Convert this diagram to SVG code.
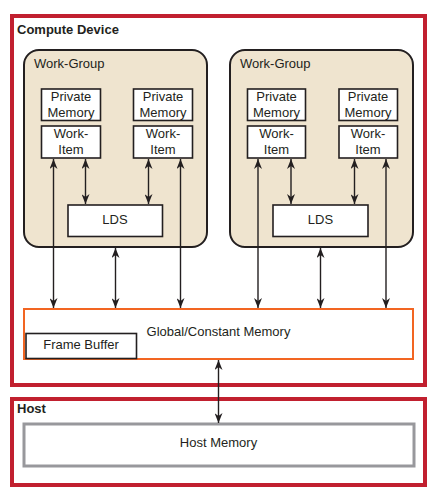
<svg xmlns="http://www.w3.org/2000/svg" width="447" height="500" viewBox="0 0 447 500">
<defs>
<marker id="ah" viewBox="0 0 10 8" refX="10" refY="4" markerWidth="10" markerHeight="8" markerUnits="userSpaceOnUse" orient="auto-start-reverse">
<path d="M0,0 L10,4 L0,8 L3,4 z" fill="#231f20"/>
</marker>
<style>
text{font-family:"Liberation Sans",Arial,sans-serif;font-size:13px;fill:#231f20}
.b{font-weight:bold}
.m{text-anchor:middle}
.outer{fill:none;stroke:#c1202f;stroke-width:4}
.wg{fill:#efe4cf;stroke:#231f20;stroke-width:2}
.box{fill:#fff;stroke:#231f20;stroke-width:1.6}
.c line{stroke:#231f20;stroke-width:1.4;marker-start:url(#ah);marker-end:url(#ah)}
</style>
</defs>
<rect width="447" height="500" fill="#fff"/>
<g id="compute-device">
<rect class="outer" x="12" y="16" width="413" height="369"/>
<text class="b" x="17" y="34">Compute Device</text>
</g>
<g id="host">
<rect class="outer" x="12" y="399" width="413" height="86"/>
<text class="b" x="17" y="413">Host</text>
</g>
<g id="workgroup1">
<rect class="wg" x="24" y="50" width="183" height="197" rx="15"/>
<text x="34" y="68">Work-Group</text>
</g>
<g id="workgroup2">
<rect class="wg" x="230" y="50" width="183" height="197" rx="15"/>
<text x="240" y="68">Work-Group</text>
</g>
<g id="pm1"><rect class="box" x="41.5" y="89" width="59" height="31.5"/><text class="m" x="71" y="101">Private</text><text class="m" x="71" y="117">Memory</text></g>
<g id="wi1"><rect class="box" x="41.5" y="126" width="59" height="32"/><text class="m" x="71" y="138">Work-</text><text class="m" x="71" y="154">Item</text></g>
<g id="pm2"><rect class="box" x="133.5" y="89" width="59" height="31.5"/><text class="m" x="163" y="101">Private</text><text class="m" x="163" y="117">Memory</text></g>
<g id="wi2"><rect class="box" x="133.5" y="126" width="59" height="32"/><text class="m" x="163" y="138">Work-</text><text class="m" x="163" y="154">Item</text></g>
<g id="pm3"><rect class="box" x="247.5" y="89" width="58" height="31.5"/><text class="m" x="276.5" y="101">Private</text><text class="m" x="276.5" y="117">Memory</text></g>
<g id="wi3"><rect class="box" x="247.5" y="126" width="58" height="32"/><text class="m" x="276.5" y="138">Work-</text><text class="m" x="276.5" y="154">Item</text></g>
<g id="pm4"><rect class="box" x="339" y="89" width="58.5" height="31.5"/><text class="m" x="368" y="101">Private</text><text class="m" x="368" y="117">Memory</text></g>
<g id="wi4"><rect class="box" x="339" y="126" width="58.5" height="32"/><text class="m" x="368" y="138">Work-</text><text class="m" x="368" y="154">Item</text></g>
<g id="lds1"><rect class="box" x="68" y="205" width="94.5" height="31.5"/><text class="m" x="115" y="224">LDS</text></g>
<g id="lds2"><rect class="box" x="273" y="205" width="95" height="31.5"/><text class="m" x="320.5" y="224">LDS</text></g>
<g id="global">
<rect x="24" y="309" width="389" height="50" fill="#fff" stroke="#f26522" stroke-width="2"/>
<text class="m" x="218.5" y="336">Global/Constant Memory</text>
</g>
<g id="framebuffer">
<rect class="box" x="26" y="333.5" width="110.5" height="25" stroke-width="1.4"/>
<text class="m" x="81" y="349">Frame Buffer</text>
</g>
<g id="hostmem">
<rect x="24" y="424" width="390" height="42" fill="#fff" stroke="#98989c" stroke-width="3"/>
<text class="m" x="218.5" y="447">Host Memory</text>
</g>
<g id="connectors" class="c">
<line x1="53.5" y1="159" x2="53.5" y2="308"/>
<line x1="180.5" y1="159" x2="180.5" y2="308"/>
<line x1="85.5" y1="159" x2="85.5" y2="204"/>
<line x1="148.5" y1="159" x2="148.5" y2="204"/>
<line x1="115.5" y1="248" x2="115.5" y2="308"/>
<line x1="258" y1="159" x2="258" y2="308"/>
<line x1="386" y1="159" x2="386" y2="308"/>
<line x1="291" y1="159" x2="291" y2="204"/>
<line x1="354.5" y1="159" x2="354.5" y2="204"/>
<line x1="320.5" y1="248" x2="320.5" y2="308"/>
<line x1="218.5" y1="360" x2="218.5" y2="423"/>
</g>
</svg>
